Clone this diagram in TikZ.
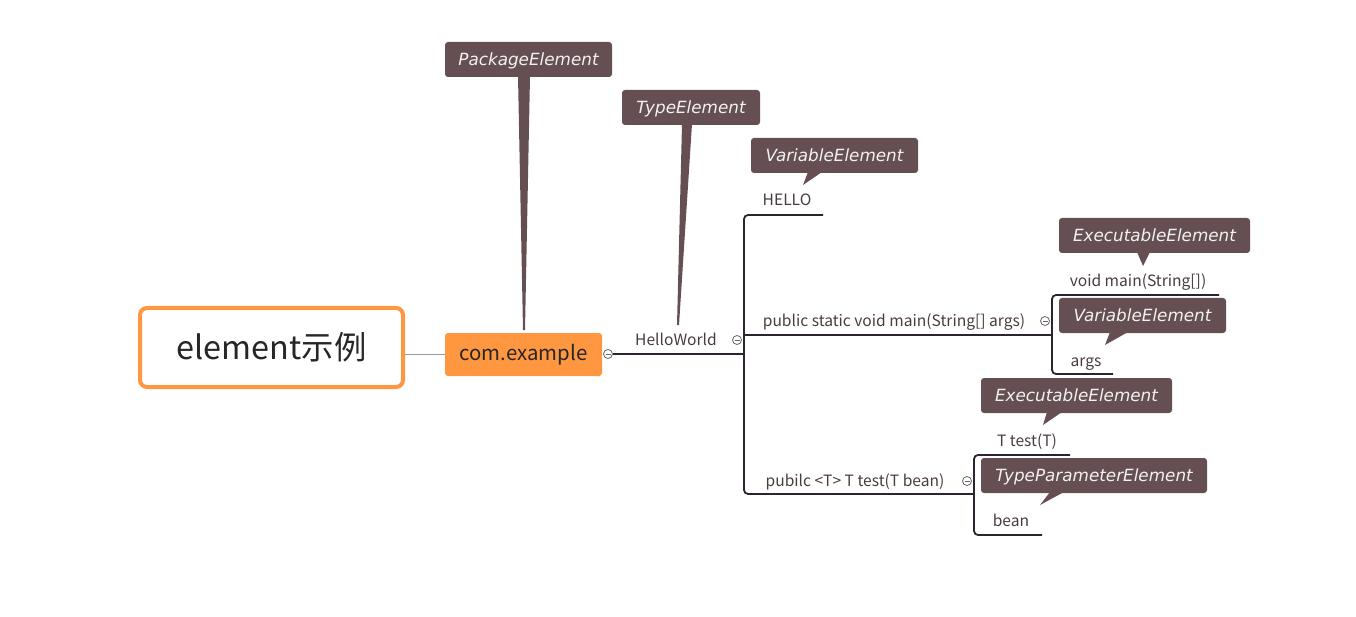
\documentclass[tikz,border=0pt]{standalone}
\usepackage{fontspec}
\setmainfont{Noto Sans CJK SC}
\newfontfamily\calloutfont{DejaVu Sans}
\definecolor{orangeM}{HTML}{FF9640}
\definecolor{callout}{HTML}{654F52}
\definecolor{lineD}{HTML}{2E2430}
\definecolor{txt}{HTML}{4A3C3E}
\tikzset{
  calloutbox/.style={fill=callout,rounded corners=3pt,minimum height=35pt,inner sep=0pt,
    text height=12pt,text depth=0.5pt,
    text=white!95!black,font=\calloutfont\itshape\fontsize{16.8}{18}\selectfont},
  leaf/.style={inner sep=0pt,text=txt,font=\fontsize{15.6}{17}\selectfont,anchor=base},
  conn/.style={draw=lineD,line width=1.8pt,rounded corners=4pt},
  marker/.style={circle,draw=gray!80!black,line width=0.8pt,minimum size=9pt,inner sep=0pt,fill=white,
    path picture={\draw[gray!80!black,line width=0.8pt] ([xshift=-2.5pt]path picture bounding box.center)--([xshift=2.5pt]path picture bounding box.center);}},
}
\begin{document}
\begin{tikzpicture}[x=1pt,y=-1pt]
\useasboundingbox (0,0) rectangle (1356,617);
% root
\node[draw=orangeM,line width=4pt,rounded corners=7pt,minimum width=263pt,minimum height=79pt,inner sep=0pt,
  font=\fontsize{32.4}{34}\selectfont,text=black!85] (root) at (271.5,347.5) {element示例};
% com.example
\node[fill=orangeM,rounded corners=3pt,minimum width=157pt,minimum height=43pt,inner sep=0pt,
  font=\fontsize{20.4}{22}\selectfont,text=black!85] (pkg) at (523.5,354.5) {com.example};
\draw[gray!80,line width=1.5pt] (root.east |- pkg.west) -- (pkg.west);
% markers
\node[marker] (m0) at (608,354) {};
\node[marker] (m1) at (737,340) {};
\node[marker] (m2) at (1045,321) {};
\node[marker] (m3) at (967,481) {};
% coordinates of tree
\coordinate (hub) at (744,354);
\coordinate (helloEnd) at (823,215);
\coordinate (mainStart) at (744,335);
\coordinate (mainHub) at (1052,335);
\coordinate (testEnd) at (974,494);
\coordinate (vmEnd) at (1219,295);
\coordinate (argsEnd) at (1113,374);
\coordinate (testHubTop) at (974,494);
\coordinate (ttEnd) at (1070,455);
\coordinate (beanEnd) at (1042,535);
\draw[conn] (m0.east) -- (hub);
\draw[conn] (hub) |- (helloEnd);
\draw[conn] (hub) |- (testEnd);
\draw[conn] (mainStart) -- (mainHub);
\draw[conn] (mainHub) |- (vmEnd);
\draw[conn] (mainHub) |- (argsEnd);
\draw[conn] (testHubTop) |- (ttEnd);
\draw[conn] (testHubTop) |- (beanEnd);
% texts
\node[leaf] (hw) at (676,345.5) {HelloWorld};
\node[leaf] (hello) at (787,205.5) {HELLO};
\node[leaf] (main) at (894,326.5) {public static void main(String[] args)};
\node[leaf] (vm) at (1138,286.5) {void main(String[])};
\node[leaf] (args) at (1086,366.5) {args};
\node[leaf] (test) at (855,486.5) {pubilc <T> T test(T bean)};
\node[leaf] (tt) at (1027,446.5) {T test(T)};
\node[leaf] (bean) at (1011,526.5) {bean};
% callouts
\node[calloutbox,minimum width=167pt] (cPkg) at (528.5,59.5) {PackageElement};
\fill[callout] (518,76) -- (530,76) -- (525,330) -- (523,330) -- cycle;
\node[calloutbox,minimum width=138pt] (cType) at (691,107.5) {TypeElement};
\fill[callout] (682,124) -- (692,124) -- (679,325) -- (677,325) -- cycle;
\node[calloutbox,minimum width=167pt] (cVar1) at (834.5,155.5) {VariableElement};
\fill[callout] (808,172) -- (822,172) -- (803,185) -- cycle;
\node[calloutbox,minimum width=191pt] (cExe1) at (1154.5,235.5) {ExecutableElement};
\fill[callout] (1137,252) -- (1150,252) -- (1143,266) -- cycle;
\node[calloutbox,minimum width=167pt] (cVar2) at (1142.5,315.5) {VariableElement};
\fill[callout] (1110,332) -- (1128,332) -- (1105,345) -- cycle;
\node[calloutbox,minimum width=191pt] (cExe2) at (1076.5,395.5) {ExecutableElement};
\fill[callout] (1047,412) -- (1062,412) -- (1043,425) -- cycle;
\node[calloutbox,minimum width=226pt] (cTP) at (1094,475.5) {TypeParameterElement};
\fill[callout] (1050,492) -- (1064,492) -- (1040,505) -- cycle;
\end{tikzpicture}
\end{document}
